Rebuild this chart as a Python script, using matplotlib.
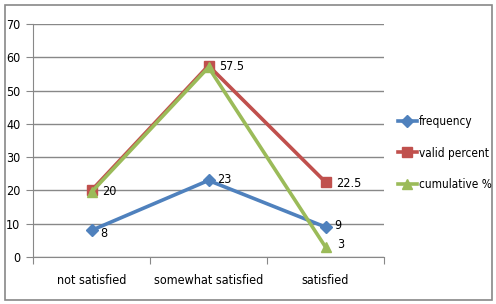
import matplotlib.pyplot as plt
from matplotlib.patches import Rectangle

categories = ["not satisfied", "somewhat satisfied", "satisfied"]
frequency = [8, 23, 9]
valid_percent = [20, 57.5, 22.5]
cumulative = [19.5, 57, 3]
cum_labels = ["", "", "3"]

plt.rcParams['font.family'] = ['DejaVu Sans']
plt.rcParams['font.stretch'] = 'condensed'

fig = plt.figure(figsize=(4.96, 3.04), dpi=100)
ax = fig.add_axes([33/496, 1 - 257/304, (384-33)/496, (257-24)/304])

# outer chart border
fig.patches.append(Rectangle((5/496, 4/304), 487/496, 295/304, transform=fig.transFigure,
                             fill=False, edgecolor="#888888", linewidth=1.2))

x = [0.5, 1.5, 2.5]
blue, red, green = "#4F81BD", "#C0504D", "#9BBB59"

ax.plot(x, frequency, color=blue, marker="D", markersize=6, linewidth=2.6, label="frequency", zorder=4)
ax.plot(x, valid_percent, color=red, marker="s", markersize=7, linewidth=2.6, label="valid percent", zorder=3)
ax.plot(x, cumulative, color=green, marker="^", markersize=7, linewidth=2.6, label="cumulative %", zorder=5)

for xi, v in zip(x, frequency):
    ax.annotate(str(v), (xi, v), xytext=(6, -2 if v == 8 else 1), textcoords="offset points", fontsize=9, va="center")
for xi, v in zip(x, valid_percent):
    ax.annotate(f"{v:g}", (xi, v), xytext=(8, -1), textcoords="offset points", fontsize=9, va="center")
for xi, v, lab in zip(x, cumulative, cum_labels):
    if lab:
        ax.annotate(lab, (xi, v), xytext=(8, 2), textcoords="offset points", fontsize=9, va="center")

ax.set_xlim(0, 3)
ax.set_ylim(0, 70)
ax.set_yticks(range(0, 71, 10))
ax.set_xticks([0, 1, 2, 3])
ax.set_xticklabels([])
ax.set_xticks(x, minor=True)
ax.set_xticklabels(categories, minor=True, fontsize=9)
ax.tick_params(axis="x", which="major", length=5, color="#888888")
ax.tick_params(axis="x", which="minor", length=0, pad=12)
ax.tick_params(axis="y", length=5, color="#888888", labelsize=9, pad=4)
ax.grid(axis="y", color="#888888", linewidth=1)
ax.set_axisbelow(True)
for s in ["top", "right"]:
    ax.spines[s].set_visible(False)
ax.spines["left"].set_color("#888888")
ax.spines["bottom"].set_color("#888888")

fig.legend(loc="center left", bbox_to_anchor=(398/496, 1 - 153/304), frameon=False,
           fontsize=8.5, handlelength=1.6, labelspacing=1.55, handletextpad=0.2,
           borderaxespad=0, borderpad=0)

fig.savefig("out.png", dpi=100)
